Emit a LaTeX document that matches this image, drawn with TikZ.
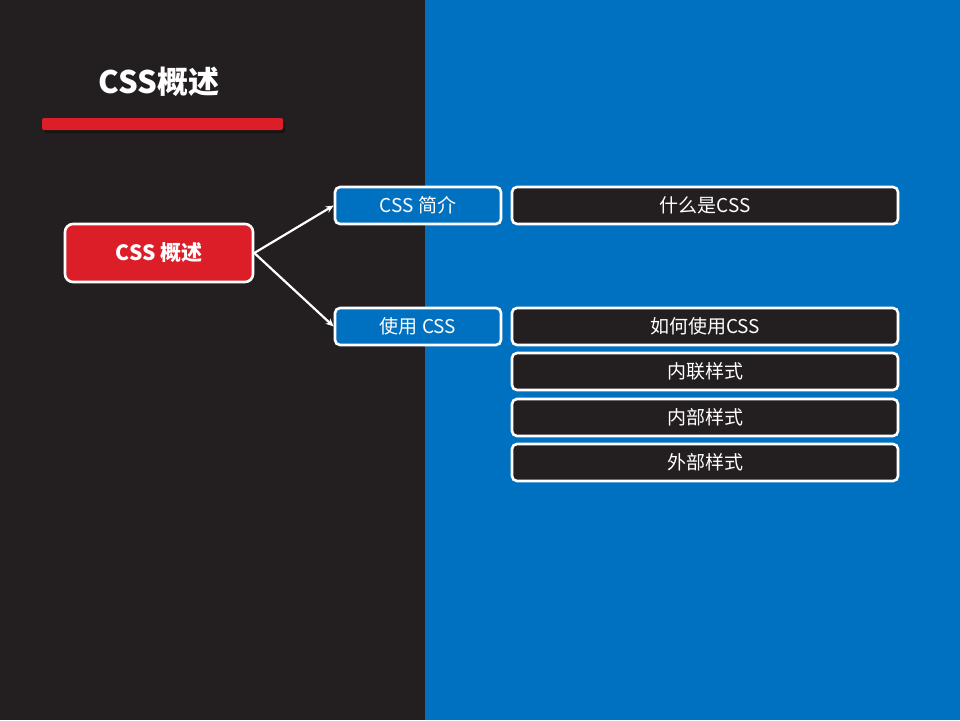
\documentclass[tikz,border=0pt]{standalone}
\usepackage{fontspec}
\setmainfont{Noto Sans CJK SC}
\usetikzlibrary{arrows.meta}
\definecolor{darkbg}{HTML}{231F20}
\definecolor{bluebg}{HTML}{0070C0}
\definecolor{redc}{HTML}{DC1E28}
\begin{document}
\begin{tikzpicture}[x=1pt,y=-1pt,
  box/.style={draw=white,line width=2.6pt,rounded corners=5pt,text=white,font=\fontsize{19}{22}\selectfont,inner sep=0pt},
  subbox/.style={box,fill=bluebg,minimum width=166pt,minimum height=37pt},
  leafbox/.style={box,fill=darkbg,minimum width=386pt,minimum height=37pt},
  conn/.style={draw=white,line width=2.2pt,-{Stealth[length=8pt,width=7pt]}}]
\useasboundingbox (0,0) rectangle (960,720);
\fill[darkbg] (0,0) rectangle (425,720);
\fill[bluebg] (425,0) rectangle (960,720);
% title
\node[text=white,font=\bfseries\fontsize{31}{36}\selectfont] (title) at (159,82) {CSS概述};
\fill[black,opacity=0.35,rounded corners=2pt] (44,121) rectangle (285,133);
\fill[redc,rounded corners=2pt] (42,118) rectangle (283,130);
% main
\node[box,fill=redc,minimum width=188pt,minimum height=58pt,rounded corners=8pt,font=\bfseries\fontsize{21}{24}\selectfont] (main) at (159,253) {CSS 概述};
\node[subbox] (intro) at (418,205.5) {CSS 简介};
\node[subbox] (use) at (418,326.5) {使用 CSS};
\node[leafbox] (l1) at (705,205.5) {什么是CSS};
\node[leafbox] (l2) at (705,326.5) {如何使用CSS};
\node[leafbox] (l3) at (705,371.5) {内联样式};
\node[leafbox] (l4) at (705,417.5) {内部样式};
\node[leafbox] (l5) at (705,462.5) {外部样式};
\draw[conn] (main.east) -- (intro.west);
\draw[conn] (main.east) -- (use.west);
\end{tikzpicture}
\end{document}
